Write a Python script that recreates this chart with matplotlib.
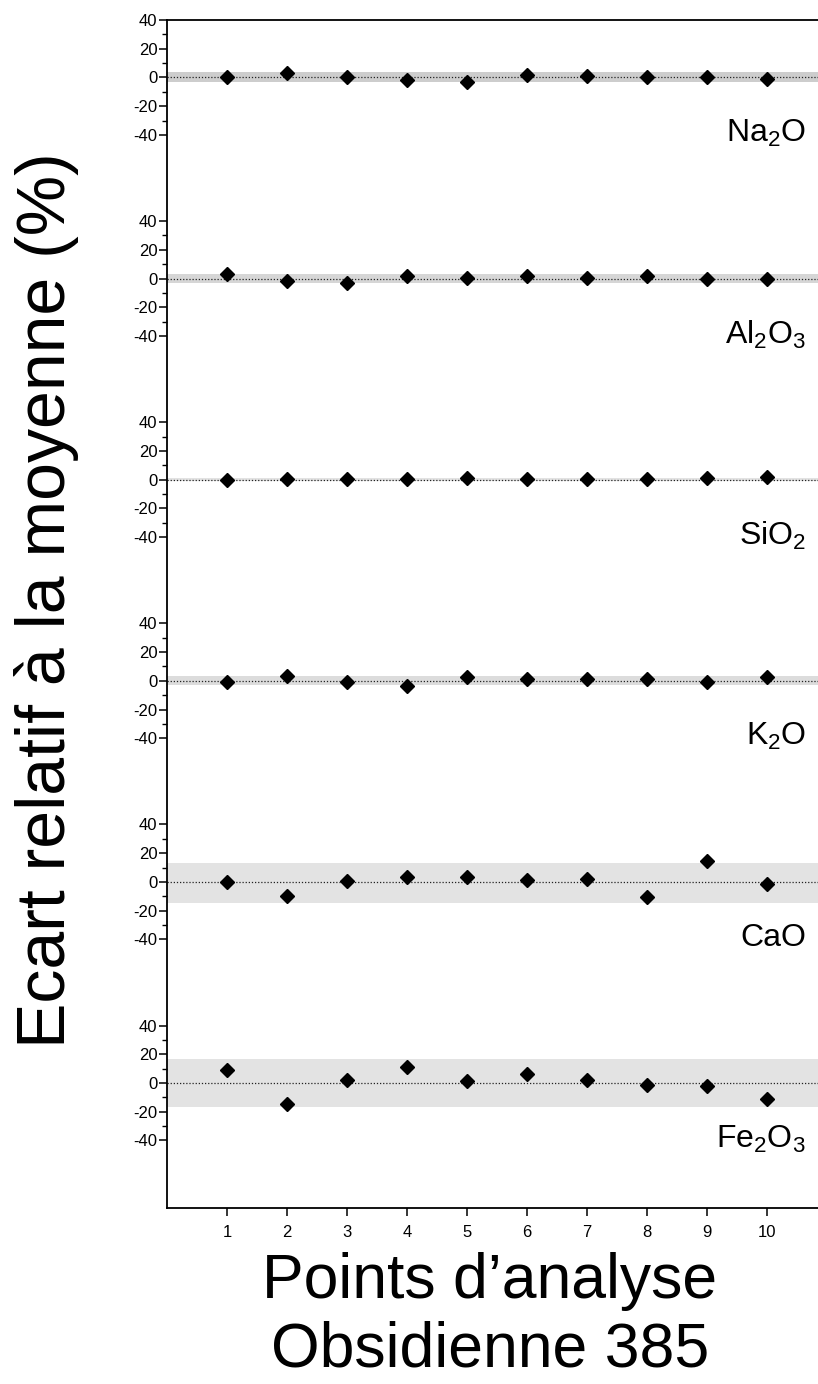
import numpy as np
import matplotlib
matplotlib.use('Agg')
import matplotlib.pyplot as plt

# ---- data ----
points = list(range(1, 11))
oxides = ['Na$_2$O', 'Al$_2$O$_3$', 'SiO$_2$', 'K$_2$O', 'CaO', 'Fe$_2$O$_3$']
na2o = [0.0, 3.0, 0.5, -1.6, -3.5, 1.6, 1.2, 0.5, 0.0, -1.4]
al2o3 = [3.4, -1.8, -3.0, 1.6, 0.5, 1.8, 0.2, 1.6, -0.5, -0.5]
sio2 = [-0.2, 0.7, 0.2, 0.2, 0.9, 0.2, 0.2, 0.5, 0.9, 2.0]
k2o = [-0.7, 3.3, -0.9, -3.7, 2.6, 1.4, 1.2, 1.2, -0.7, 2.6]
cao = [-0.2, -9.9, 0.9, 3.2, 3.2, 1.6, 2.1, -10.6, 14.3, -1.4]
fe2o3 = [9.2, -14.8, 1.8, 11.1, 1.4, 6.5, 2.3, -1.4, -2.3, -10.9]
series = [na2o, al2o3, sio2, k2o, cao, fe2o3]
band_low = [-3.5, -3.3, -1.0, -3.0, -14.5, -17.0]
band_high = [3.5, 3.3, 1.0, 3.0, 13.0, 17.0]
band_colors = ['#cdcdcd', '#d6d6d6', '#e2e2e2', '#dcdcdc', '#e3e3e3', '#e3e3e3']
ytick_vals = [40, 20, 0, -20, -40]
ytick_labels = ['40', '20', '0', '-20', '-40']
yminor_vals = [30, 10, -10, -30]

plt.rcParams['font.family'] = ['Liberation Sans', 'DejaVu Sans']
plt.rcParams['mathtext.fontset'] = 'custom'
plt.rcParams['mathtext.rm'] = 'Liberation Sans'
plt.rcParams['mathtext.it'] = 'Liberation Sans:italic'
plt.rcParams['mathtext.bf'] = 'Liberation Sans:bold'

W, H = 818, 1384
fig = plt.figure(figsize=(W / 100, H / 100), dpi=100)
left, right, top, bottom = 167, 818, 20, 1208
ax = fig.add_axes([left / W, 1 - bottom / H, (right - left) / W, (bottom - top) / H])

spacing = 140
major_pos, major_lab, minor_pos = [], [], []
for i, (name, vals, lo, hi, bc) in enumerate(zip(oxides, series, band_low, band_high, band_colors)):
    off = -i * spacing
    ax.axhspan(off + lo, off + hi, color=bc, lw=0, zorder=1)
    ax.axhline(off, ls=(0, (1, 1.5)), color='#222222', lw=0.9, zorder=2)
    ax.plot(points, np.array(vals) + off, 'D', color='black', ms=7.5, zorder=3)
    ax.text(10.65, off - 39, name, ha='right', va='center', fontsize=23)
    major_pos += [off + v for v in ytick_vals]
    major_lab += ytick_labels
    minor_pos += [off + v for v in yminor_vals]

ax.set_xlim(0, 10.85)
ax.set_ylim(-787, 40)
ax.set_yticks(major_pos)
ax.set_yticklabels(major_lab)
ax.set_yticks(minor_pos, minor=True)
ax.set_xticks(points)
ax.set_xticklabels([str(p) for p in points])
ax.tick_params(axis='y', which='major', direction='out', length=6, width=1.1, labelsize=12, pad=1)
ax.tick_params(axis='y', which='minor', direction='out', length=3.5, width=1.0)
ax.tick_params(axis='x', which='major', direction='out', length=6, width=1.1, labelsize=12, pad=6)
for s in ['left', 'top', 'bottom']:
    ax.spines[s].set_linewidth(1.3)
ax.spines['right'].set_visible(False)

fig.text(490 / W, 1 - 1252 / H, 'Points d\u2019analyse\nObsidienne 385', ha='center', va='top',
         fontsize=45, linespacing=1.2)
fig.text(47 / W, 1 - 600 / H, 'Ecart relatif \u00e0 la moyenne (%)', ha='center', va='center',
         rotation=90, fontsize=49)

fig.savefig('out.png', dpi=100)
